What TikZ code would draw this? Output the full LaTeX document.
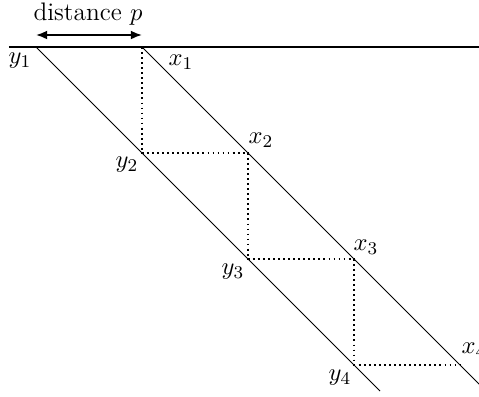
\documentclass[tikz,border=0pt]{standalone}
\usetikzlibrary{arrows.meta}
\begin{document}
\begin{tikzpicture}[x=0.446pt,y=-0.446pt,
  diag/.style={line width=0.45pt},
  dotline/.style={line width=0.8pt,dash pattern=on 0.8pt off 1.45pt},
  lbl/.style={inner sep=0pt,font=\fontsize{11.3}{13}\selectfont}]
\useasboundingbox (0,0) rectangle (479,396);
\clip (0,0) rectangle (479,396);
\coordinate (L) at (9,47);
\coordinate (R) at (485,47);
\coordinate (Y1) at (36,47);
\coordinate (X1) at (142,47);
\coordinate (Y2) at (142,153);
\coordinate (X2) at (248,153);
\coordinate (Y3) at (248,259);
\coordinate (X3) at (354,259);
\coordinate (Y4) at (354,365);
\coordinate (X4) at (460,365);
\coordinate (EL) at (380,391);
\coordinate (EU) at (485,390);
\coordinate (A1) at (36,35);
\coordinate (A2) at (142,35);
\draw[line width=1pt] (L) -- (R);
\draw[diag] (Y1) -- (EL);
\draw[diag] (X1) -- (EU);
\draw[dotline] (X1) -- (Y2) -- (X2) -- (Y3) -- (X3) -- (Y4) -- (X4);
\draw[line width=0.8pt,{Latex[length=5pt,width=4pt]}-{Latex[length=5pt,width=4pt]}] (A1) -- (A2);
\node[lbl] (dist) at (88,14) {distance $p$};
\node[lbl] (ly1) at (20,61) {$y_1$};
\node[lbl] (lx1) at (181,62) {$x_1$};
\node[lbl] (lx2) at (261,140) {$x_2$};
\node[lbl] (ly2) at (127,165) {$y_2$};
\node[lbl] (lx3) at (366,247) {$x_3$};
\node[lbl] (ly3) at (233,272) {$y_3$};
\node[lbl] (ly4) at (340,378) {$y_4$};
\node[lbl] (lx4) at (474,350) {$x_4$};
\end{tikzpicture}
\end{document}
